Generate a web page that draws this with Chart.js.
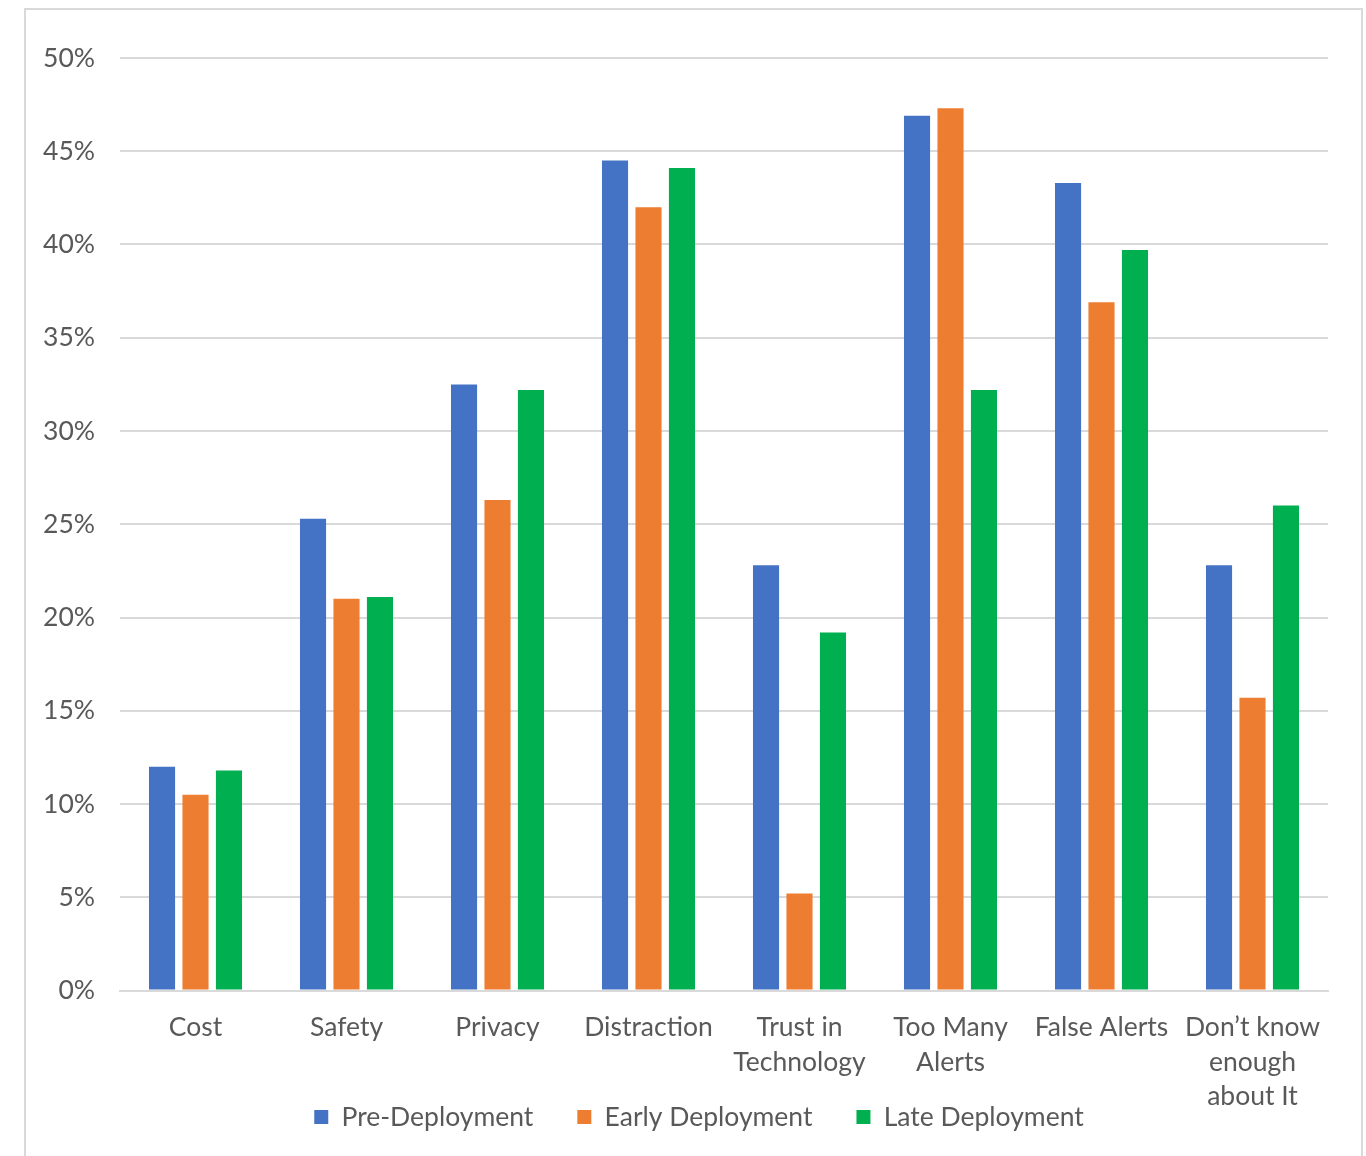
<!DOCTYPE html>
<html>
<head>
<meta charset="utf-8">
<script src="https://cdn.jsdelivr.net/npm/chart.js@4/dist/chart.umd.min.js"></script>
<style>
  html, body { margin: 0; padding: 0; background: #fff; overflow: hidden; }
  #frame {
    position: absolute; left: 24px; top: 8px;
    width: 1335px; height: 1200px;
    border: 2px solid #d9d9d9; border-bottom: none;
    background: #fff;
  }
  #wrap { position: absolute; left: 0; top: 0; width: 1335px; height: 1192px; }
</style>
</head>
<body>
<div id="frame"><div id="wrap"><canvas id="barChart"></canvas></div></div>
<script>
const categories = [
  "Cost", "Safety", "Privacy", "Distraction",
  ["Trust in", "Technology"], ["Too Many", "Alerts"], "False Alerts",
  ["Don\u2019t know", "enough", "about It"]
];
const preDeployment   = [12.0, 25.3, 32.5, 44.5, 22.8, 46.9, 43.3, 22.8];
const earlyDeployment = [10.5, 21.0, 26.3, 42.0, 5.2, 47.3, 36.9, 15.7];
const lateDeployment  = [11.8, 21.1, 32.2, 44.1, 19.2, 32.2, 39.7, 26.0];
const yTicks = [0, 5, 10, 15, 20, 25, 30, 35, 40, 45, 50];

const textColor = "#595959";
const gridColor = "#d9d9d9";
const fontSize = 26.5;
Chart.defaults.font.family = "Lato, 'Open Sans', sans-serif";
Chart.defaults.font.size = fontSize;
Chart.defaults.color = textColor;

// pull the legend up next to the last line of the long category label
const legendLift = {
  id: "legendLift",
  afterLayout(chart) {
    const lg = chart.legend;
    if (!lg) return;
    const h = lg.bottom - lg.top;
    lg.top = 1107 - 44 - fontSize / 2;
    lg.bottom = lg.top + h;
    lg.left += 22;
    lg.right += 22;
  }
};

new Chart(document.getElementById("barChart"), {
  type: "bar",
  data: {
    labels: categories,
    datasets: [
      { label: "Pre-Deployment", data: preDeployment, backgroundColor: "#4472C4" },
      { label: "Early Deployment", data: earlyDeployment, backgroundColor: "#ED7D31" },
      { label: "Late Deployment", data: lateDeployment, backgroundColor: "#00B050" }
    ]
  },
  plugins: [legendLift],
  options: {
    responsive: true,
    maintainAspectRatio: false,
    animation: false,
    categoryPercentage: 0.665,
    barPercentage: 0.78,
    layout: { padding: { top: 48, right: 33, left: 0, bottom: 0 } },
    plugins: {
      legend: {
        position: "bottom",
        labels: {
          boxWidth: 14, boxHeight: 14, padding: 44,
          font: { size: fontSize }
        }
      },
      tooltip: { enabled: false }
    },
    scales: {
      x: {
        grid: { display: false, drawTicks: false },
        border: { display: true, color: gridColor, width: 2 },
        ticks: { padding: 19, maxRotation: 0, autoSkip: false, font: { size: fontSize, lineHeight: 1.32 } },
        afterFit: (scale) => { scale.height = 131; }
      },
      y: {
        min: 0, max: 50,
        afterBuildTicks: (scale) => { scale.ticks = yTicks.map(v => ({ value: v })); },
        afterFit: (scale) => { scale.width = 94; },
        grid: { color: gridColor, lineWidth: 2, drawTicks: false },
        border: { display: false },
        ticks: { padding: 25, callback: (v) => v + "%" }
      }
    }
  }
});
</script>
</body>
</html>
